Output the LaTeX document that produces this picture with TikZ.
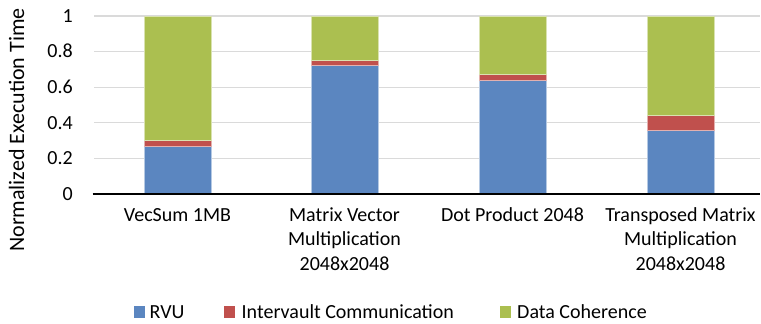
\documentclass[tikz,border=0pt]{standalone}
\usepackage{fontspec}
\setmainfont{Carlito}
\definecolor{rvu}{HTML}{5B86C0}
\definecolor{ivc}{HTML}{C0504D}
\definecolor{coh}{HTML}{ABBF50}
\definecolor{grid}{HTML}{DADADA}
\tikzset{
  lbl/.style={inner sep=0pt, font=\fontsize{20}{24.4}\selectfont},
  catlbl/.style={lbl, align=center, anchor=base},
  ticklbl/.style={lbl, anchor=base east},
  legtxt/.style={lbl, anchor=base west},
  gridline/.style={grid, line width=1.3pt},
  barpart/.style={draw=white!55!#1, fill=#1, line width=0.7pt},
}
\begin{document}
\begin{tikzpicture}[x=1pt,y=-1pt]
\useasboundingbox (0,0) rectangle (761,324);
% gridlines
\foreach \v in {0.2,0.4,0.6,0.8,1} {
  \draw[gridline] (94,{194-178*\v}) -- (760,{194-178*\v});
}
% bars: centre, rvu, rvu+ivc
\foreach \c/\a/\b in {177.5/0.266/0.300, 344.5/0.725/0.751, 512.5/0.640/0.670, 680.5/0.358/0.440} {
  \fill[barpart=rvu] ({\c-33.5},194) rectangle ({\c+33.5},{194-178*\a});
  \fill[barpart=ivc] ({\c-33.5},{194-178*\a}) rectangle ({\c+33.5},{194-178*\b});
  \fill[barpart=coh] ({\c-33.5},{194-178*\b}) rectangle ({\c+33.5},16);
}
% axis
\coordinate (axl) at (92.5,194);
\coordinate (axr) at (760,194);
\draw[black, line width=1.5pt] (axl) -- (axr);
% tick labels
\node[ticklbl] (t0) at (73,200.3) {0};
\node[ticklbl] (t2) at (73,164.7) {0.2};
\node[ticklbl] (t4) at (73,129.1) {0.4};
\node[ticklbl] (t6) at (73,93.5) {0.6};
\node[ticklbl] (t8) at (73,57.9) {0.8};
\node[ticklbl] (t10) at (73,22.3) {1};
% axis title
\node[inner sep=0pt, font=\fontsize{22}{26}\selectfont, rotate=90, anchor=base] (title) at (24,130) {Normalized Execution Time};
% category labels (base = last line baseline)
\node[catlbl] (c1) at (177.5,221.2) {VecSum 1MB};
\node[catlbl] (c2) at (344.5,270) {Matrix Vector\\Multiplication\\2048x2048};
\node[catlbl] (c3) at (512.5,221.2) {Dot Product 2048};
\node[catlbl] (c4) at (680.5,270) {Transposed Matrix\\Multiplication\\2048x2048};
% legend
\fill[rvu] (133.5,306) rectangle (144.5,317.5);
\node[legtxt] (l1) at (149.5,318) {RVU};
\fill[ivc] (224,306) rectangle (235,317.5);
\node[legtxt] (l2) at (241.5,318) {Intervault Communication};
\fill[coh] (500,306) rectangle (511,317.5);
\node[legtxt] (l3) at (517,318) {Data Coherence};
\end{tikzpicture}
\end{document}
